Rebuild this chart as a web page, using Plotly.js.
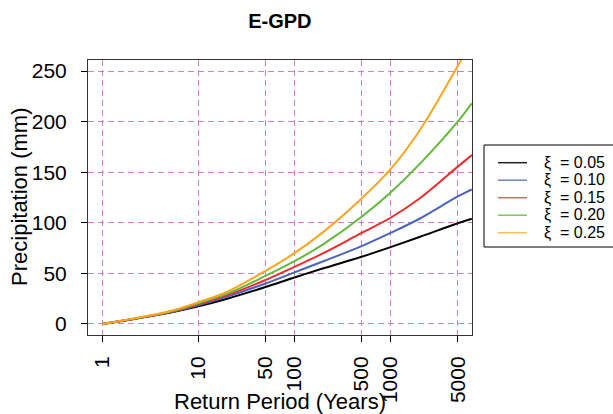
<!DOCTYPE html>
<html>
<head>
<meta charset="utf-8">
<script src="https://cdn.plot.ly/plotly-3.0.1.min.js"></script>
<style>html,body{margin:0;padding:0;background:#fff;}#chart{width:613px;height:414px;}</style>
</head>
<body>
<div id="chart"></div>
<script>
// Return periods (years)
const returnPeriods = [1, 2, 5, 10, 20, 50, 100, 200, 500, 1000, 2000, 5000, 7000];
// Return levels (mm) for each shape parameter
const xi005 = [0, 4.5, 11, 17.5, 25, 36.5, 46, 55, 66.5, 76, 86, 99.5, 104];
const xi010 = [0, 4.6, 11.3, 18.5, 27, 40, 51, 62, 77, 90, 104, 126, 133];
const xi015 = [0, 4.7, 11.6, 19.5, 28.5, 43.5, 56.5, 70, 90, 105, 124, 155.5, 167];
const xi020 = [0, 4.8, 12, 20.5, 30, 47.5, 62, 79, 106, 130, 158, 200, 218];
const xi025 = [0, 5, 12.5, 21.5, 32, 52.5, 70, 91, 124, 153, 191, 255, 280];
const seriesNames = ["\u03BE = 0.05", "\u03BE = 0.10", "\u03BE = 0.15", "\u03BE = 0.20", "\u03BE = 0.25"];
const xTickVals = [1, 10, 50, 100, 500, 1000, 5000];
const xTickText = ["1", "10", "50", "100", "500", "1000", "5000"];
const yTickVals = [0, 50, 100, 150, 200, 250];

const colors = ["#000000", "#4a63c0", "#f02a2a", "#62b93a", "#ffa41c"];
const legendColors = ["#222222", "#6f82c8", "#f05a5a", "#7cc45a", "#ffbb55"];
const allSeries = [xi005, xi010, xi015, xi020, xi025];

const traces = allSeries.map((ys, i) => ({
  x: returnPeriods, y: ys, type: "scatter", mode: "lines",
  name: seriesNames[i], showlegend: false,
  line: {color: colors[i], width: 2, shape: "spline", smoothing: 1}
}));

const font = "Liberation Sans, Arial, sans-serif";
const gridColor = "#d47ccd";

// Plot area in pixels, used to place the drawn legend box
const plotL = 88, plotW = 384, plotB = 335, plotH = 275;
const px2x = p => (p - plotL) / plotW;
const px2y = p => (plotB - p) / plotH;

const shapes = [{
  type: "rect", xref: "paper", yref: "paper",
  x0: px2x(484), x1: px2x(640), y0: px2y(247), y1: px2y(145),
  line: {color: "#000", width: 1}, fillcolor: "rgba(255,255,255,0)"
}];
const annotations = [
  {text: "Return Period (Years)", xref: "paper", yref: "paper", x: 0.5, y: -0.24,
   xanchor: "center", yanchor: "middle", showarrow: false, font: {size: 22, family: font}},
  {text: "Precipitation (mm)", xref: "paper", yref: "paper", x: -0.177, y: 0.502,
   xanchor: "center", yanchor: "middle", textangle: -90, showarrow: false, font: {size: 22, family: font}}
];
seriesNames.forEach((name, i) => {
  const rowY = 162.7 + i * 17.5;
  shapes.push({
    type: "line", xref: "paper", yref: "paper",
    x0: px2x(498), x1: px2x(527), y0: px2y(rowY), y1: px2y(rowY),
    line: {color: legendColors[i], width: 1.5}
  });
  annotations.push({
    text: name.replace(" = ", "\u00A0\u00A0= "), xref: "paper", yref: "paper",
    x: px2x(542), y: px2y(rowY), xanchor: "left", yanchor: "middle",
    showarrow: false, font: {size: 16, family: font, color: "#000"}
  });
});

const layout = {
  width: 613, height: 414,
  margin: {l: 88, r: 141, t: 60, b: 79},
  paper_bgcolor: "#ffffff", plot_bgcolor: "#ffffff",
  font: {family: font, color: "#000"},
  title: {text: "<b>E-GPD</b>", font: {size: 20, family: font, color: "#000"}, x: 0.4565, xanchor: "center", y: 0.95, yanchor: "middle"},
  showlegend: false,
  xaxis: {
    type: "log", range: [-0.148, 3.847],
    tickmode: "array", tickvals: xTickVals, ticktext: xTickText,
    tickangle: -90, tickfont: {size: 21, family: font},
    ticks: "outside", ticklen: 6, tickcolor: "#000", ticklabelstandoff: 6,
    showline: true, linecolor: "#333", linewidth: 1, mirror: true,
    showgrid: true, gridcolor: gridColor, griddash: "6px,4px", gridwidth: 1,
    zeroline: false, automargin: false
  },
  yaxis: {
    range: [-10.9, 260.9],
    tickmode: "array", tickvals: yTickVals,
    tickfont: {size: 21, family: font},
    ticks: "outside", ticklen: 6, tickcolor: "#000", ticklabelstandoff: 10,
    showline: true, linecolor: "#333", linewidth: 1, mirror: true,
    showgrid: true, gridcolor: gridColor, griddash: "6px,4px", gridwidth: 1,
    zeroline: false, automargin: false
  },
  shapes: shapes,
  annotations: annotations
};

Plotly.newPlot("chart", traces, layout, {displayModeBar: false, staticPlot: true});
</script>
</body>
</html>
